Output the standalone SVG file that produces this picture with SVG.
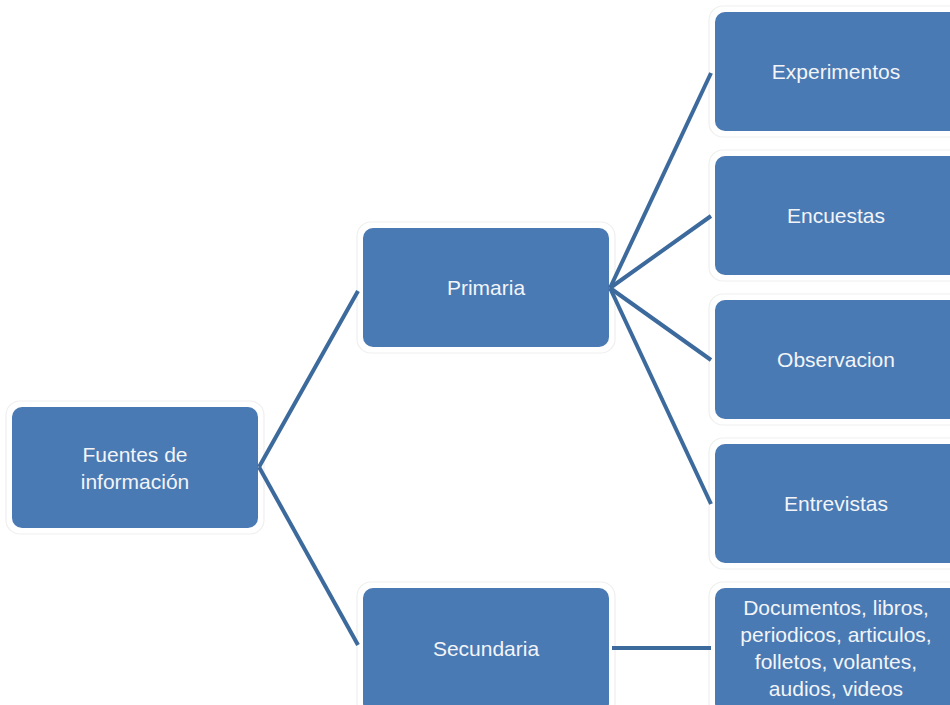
<svg xmlns="http://www.w3.org/2000/svg" width="950" height="705" viewBox="0 0 950 705">
<style>
.halo{fill:#ffffff;stroke:#efefef;stroke-width:1.2}
.box{fill:#4a7ab3}
.t{font-family:"Liberation Sans",Arial,sans-serif;font-size:21px;fill:#f2f4f8;text-anchor:middle}
.c{stroke:#3d6a9c;stroke-width:4;fill:none;stroke-linecap:butt}
</style>
<rect width="950" height="705" fill="#ffffff"/>
<g id="fuentes">
<rect class="halo" x="6" y="401" width="258" height="133" rx="14"/>
<rect class="box" x="12" y="407" width="246" height="121" rx="10"/>
<text class="t" x="135" y="462">Fuentes de</text>
<text class="t" x="135" y="489">información</text>
</g>
<g id="primaria">
<rect class="halo" x="357" y="222" width="258" height="131" rx="14"/>
<rect class="box" x="363" y="228" width="246" height="119" rx="10"/>
<text class="t" x="486" y="295">Primaria</text>
</g>
<g id="secundaria">
<rect class="halo" x="357" y="582" width="258" height="135" rx="14"/>
<rect class="box" x="363" y="588" width="246" height="125" rx="10"/>
<text class="t" x="486" y="656">Secundaria</text>
</g>
<g id="experimentos">
<rect class="halo" x="709" y="6" width="260" height="131" rx="14"/>
<rect class="box" x="715" y="12" width="250" height="119" rx="10"/>
<text class="t" x="836" y="79">Experimentos</text>
</g>
<g id="encuestas">
<rect class="halo" x="709" y="150" width="260" height="131" rx="14"/>
<rect class="box" x="715" y="156" width="250" height="119" rx="10"/>
<text class="t" x="836" y="223">Encuestas</text>
</g>
<g id="observacion">
<rect class="halo" x="709" y="294" width="260" height="131" rx="14"/>
<rect class="box" x="715" y="300" width="250" height="119" rx="10"/>
<text class="t" x="836" y="367">Observacion</text>
</g>
<g id="entrevistas">
<rect class="halo" x="709" y="438" width="260" height="131" rx="14"/>
<rect class="box" x="715" y="444" width="250" height="119" rx="10"/>
<text class="t" x="836" y="511">Entrevistas</text>
</g>
<g id="documentos">
<rect class="halo" x="709" y="582" width="260" height="135" rx="14"/>
<rect class="box" x="715" y="588" width="250" height="125" rx="10"/>
<text class="t" x="836" y="615">Documentos, libros,</text>
<text class="t" x="836" y="642">periodicos, articulos,</text>
<text class="t" x="836" y="669">folletos, volantes,</text>
<text class="t" x="836" y="696">audios, videos</text>
</g>
<g id="connectors">
<path class="c" d="M259 467 L358 291"/>
<path class="c" d="M259 467 L358 645"/>
<path class="c" d="M610 288 L711 73"/>
<path class="c" d="M610 288 L711 216"/>
<path class="c" d="M610 288 L711 360"/>
<path class="c" d="M610 288 L711 504"/>
<path class="c" d="M612 648 L711 648"/>
</g>
</svg>
